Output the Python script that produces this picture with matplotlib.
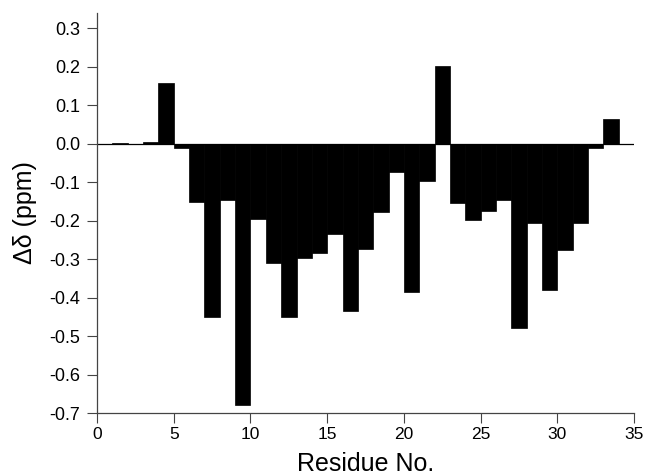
import numpy as np
import matplotlib
matplotlib.use("Agg")
import matplotlib.pyplot as plt

plt.rcParams['font.family'] = ['Liberation Sans', 'DejaVu Sans']
plt.rcParams['axes.unicode_minus'] = False

# residue number (left edge of each bar) and chemical shift difference
residues = [1, 2, 3, 4, 5, 6, 7, 8, 9, 10, 11, 12, 13, 14, 15, 16, 17,
            18, 19, 20, 21, 22, 23, 24, 25, 26, 27, 28, 29, 30, 31, 32, 33]
delta = [0.002, 0.0, 0.005, 0.157, -0.01, -0.15, -0.45, -0.145, -0.68,
         -0.195, -0.31, -0.45, -0.297, -0.284, -0.235, -0.436, -0.274,
         -0.177, -0.074, -0.385, -0.097, 0.203, -0.155, -0.198, -0.174,
         -0.146, -0.478, -0.207, -0.379, -0.275, -0.207, -0.011, 0.064]
yticks = [-0.7, -0.6, -0.5, -0.4, -0.3, -0.2, -0.1, 0.0, 0.1, 0.2, 0.3]
xticks = [0, 5, 10, 15, 20, 25, 30, 35]

fig = plt.figure(figsize=(6.49, 4.75), dpi=100)
ax = fig.add_axes([0.1495, 0.1305, 0.8275, 0.842])

ax.bar(residues, delta, width=1.0, align='edge', color='black',
       edgecolor='black', linewidth=0.5)
ax.axhline(0, color='black', linewidth=0.9)

ax.set_xlim(0, 35)
ax.set_ylim(-0.7, 0.34)
ax.set_xticks(xticks)
ax.set_yticks(yticks)
ax.set_yticklabels([f"{v:.1f}" for v in yticks])

for s in ['top', 'right']:
    ax.spines[s].set_visible(False)
for s in ['left', 'bottom']:
    ax.spines[s].set_color('#444444')
    ax.spines[s].set_linewidth(0.9)

ax.tick_params(axis='both', direction='out', length=7, width=0.8,
               color='#444444')
ax.tick_params(axis='y', pad=5, labelsize=13)
ax.tick_params(axis='x', pad=3, labelsize=12.5)

ax.set_xlabel('Residue No.', fontsize=18, labelpad=7)
ax.set_ylabel('Δδ (ppm)', fontsize=18, labelpad=9)

fig.savefig('out.png', dpi=100)
